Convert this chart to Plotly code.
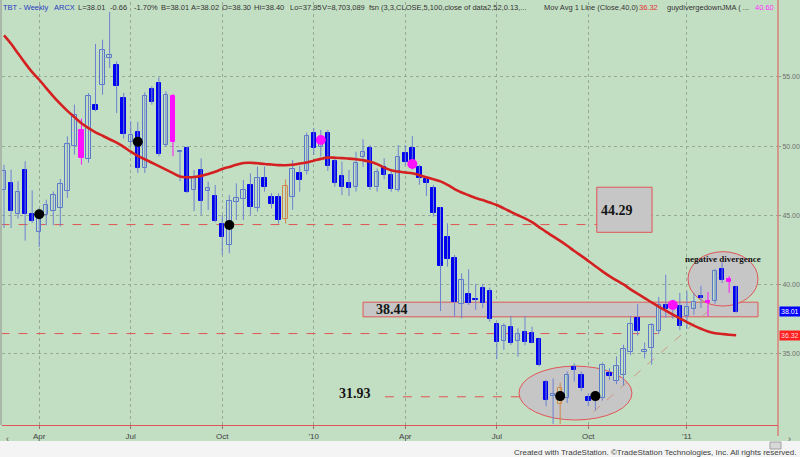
import plotly.graph_objects as go
import pandas as pd

# TBT weekly bars (late Feb 2009 .. early Mar 2011)
opens = [46.86, 47.34, 45.10, 48.25, 45.10, 43.80, 45.05, 45.34, 45.53, 46.73,
         49.99, 51.19, 49.07, 52.95, 54.45, 56.37, 55.84, 53.48, 50.30, 51.02,
         48.42, 54.16, 54.60, 50.10, 53.60, 49.55, 49.90, 46.84, 48.28, 46.76,
         46.40, 44.38, 42.86, 45.95, 46.16, 47.19, 45.55, 47.72, 46.35, 46.35,
         44.70, 46.35, 48.04, 48.23, 50.98, 49.96, 50.98, 48.93, 47.87, 47.31,
         47.02, 49.20, 49.84, 47.07, 48.47, 47.92, 46.83, 49.48, 49.89, 48.52,
         47.62, 47.00, 45.55, 43.46, 41.89, 38.60, 39.31, 38.95, 39.77, 39.53,
         37.12, 35.90, 36.90, 35.92, 36.54, 36.52, 36.04, 32.98, 31.95, 31.35,
         31.79, 34.00, 33.47, 31.90, 31.80, 31.79, 33.60, 33.00, 33.47, 35.13,
         37.61, 35.10, 35.40, 36.60, 38.50, 38.50, 38.45, 37.70, 38.20, 39.20,
         38.80, 38.80, 41.10, 40.40, 39.80]
highs = [48.66, 48.30, 47.46, 48.90, 46.80, 45.50, 46.13, 46.73, 47.63, 50.71,
         53.00, 51.99, 53.84, 57.39, 57.70, 59.70, 56.13, 53.84, 51.80, 51.75,
         53.90, 54.33, 54.98, 53.96, 53.77, 49.65, 50.00, 48.28, 49.12, 47.43,
         47.19, 45.02, 46.47, 47.31, 47.55, 48.03, 48.52, 48.52, 46.60, 46.60,
         47.60, 49.00, 48.57, 50.98, 51.29, 51.17, 51.17, 49.24, 48.88, 48.28,
         49.60, 50.50, 50.08, 48.39, 49.12, 48.27, 50.08, 50.08, 50.73, 48.64,
         47.79, 47.19, 45.60, 44.42, 42.13, 40.81, 41.10, 40.04, 40.04, 39.77,
         37.19, 37.19, 37.72, 36.83, 37.72, 36.95, 36.10, 33.10, 33.20, 32.90,
         33.71, 34.30, 33.71, 32.13, 32.20, 34.36, 33.95, 34.80, 35.64, 37.73,
         38.57, 35.80, 37.20, 39.10, 40.70, 38.90, 39.40, 39.50, 39.40, 39.90,
         39.45, 41.10, 41.60, 40.60, 39.90]
lows = [44.08, 44.08, 44.76, 43.17, 44.45, 42.70, 44.28, 44.28, 44.20, 46.25,
        49.39, 48.66, 48.80, 52.52, 53.72, 55.65, 52.40, 50.54, 50.00, 48.06,
        48.06, 53.00, 49.27, 49.98, 49.27, 47.46, 46.60, 45.30, 45.03, 45.38,
        44.50, 42.13, 42.25, 44.66, 44.66, 45.00, 45.27, 46.71, 45.50, 44.40,
        44.40, 45.40, 46.71, 47.96, 49.36, 49.24, 48.20, 47.07, 46.47, 46.40,
        46.71, 48.50, 46.83, 46.71, 47.60, 46.71, 46.71, 48.60, 48.30, 47.20,
        46.40, 44.90, 38.08, 41.29, 37.67, 37.55, 38.52, 38.16, 38.28, 37.30,
        34.60, 35.27, 35.63, 34.78, 35.60, 35.75, 34.07, 31.20, 29.90, 29.90,
        31.43, 32.98, 32.30, 31.20, 30.90, 31.60, 33.10, 32.80, 32.70, 34.89,
        36.30, 34.65, 34.20, 36.40, 37.60, 37.50, 36.70, 36.80, 37.80, 38.30,
        37.70, 38.60, 40.10, 39.40, 37.95]
closes = [48.18, 45.34, 46.69, 45.12, 44.60, 45.05, 45.77, 46.45, 47.27, 50.16,
          52.28, 49.14, 53.60, 52.64, 56.93, 56.60, 54.37, 50.88, 50.78, 48.42,
          53.60, 53.20, 49.43, 53.72, 50.30, 49.62, 46.72, 47.80, 46.00, 46.98,
          44.60, 43.41, 46.06, 46.23, 46.83, 45.63, 47.67, 47.02, 45.82, 44.66,
          47.12, 48.33, 47.55, 50.73, 49.84, 50.37, 48.57, 47.31, 47.07, 46.95,
          48.81, 49.60, 47.07, 48.15, 47.92, 46.88, 49.24, 48.88, 48.76, 47.72,
          47.36, 45.19, 41.33, 41.82, 38.71, 40.33, 38.69, 38.90, 38.69, 37.50,
          35.87, 37.00, 35.75, 36.42, 35.87, 35.80, 34.20, 31.65, 32.05, 32.50,
          33.47, 33.85, 32.50, 31.60, 32.00, 34.19, 33.40, 34.10, 35.35, 37.13,
          36.60, 35.25, 37.10, 38.50, 38.20, 38.30, 37.00, 38.34, 38.76, 39.04,
          38.65, 41.00, 40.30, 40.15, 38.00]
# 40-week moving average as drawn on the chart
ma40 = [58.00, 57.40, 56.70, 56.00, 55.35, 54.80, 54.20, 53.60, 53.05, 52.55,
        52.10, 51.65, 51.30, 51.00, 50.75, 50.50, 50.25, 49.95, 49.60, 49.30,
        49.05, 48.80, 48.55, 48.30, 48.05, 47.80, 47.75, 47.77, 47.85, 47.98,
        48.15, 48.35, 48.50, 48.65, 48.78, 48.80, 48.76, 48.71, 48.67, 48.63,
        48.62, 48.66, 48.74, 48.82, 48.95, 49.08, 49.17, 49.16, 49.13, 49.10,
        49.05, 48.98, 48.88, 48.70, 48.45, 48.25, 48.17, 48.10, 48.04, 47.90,
        47.75, 47.60, 47.45, 47.20, 46.90, 46.65, 46.45, 46.25, 46.10, 45.92,
        45.74, 45.50, 45.25, 45.00, 44.78, 44.50, 44.15, 43.80, 43.48, 43.15,
        42.80, 42.42, 42.07, 41.70, 41.32, 40.95, 40.60, 40.30, 40.00, 39.65,
        39.33, 39.02, 38.70, 38.40, 38.10, 37.82, 37.55, 37.27, 37.02, 36.80,
        36.60, 36.47, 36.42, 36.37, 36.33]

magenta_bars = [12, 25, 101, 104]
orange_bars = [41, 80]
black_dot_bars = [6, 20, 33, 80, 85]
black_dot_vals = [45.07, 50.32, 44.30, 31.93, 31.93]
pink_dot_bars = [46, 59, 96]
pink_dot_vals = [50.44, 48.71, 38.51]

tick_bars = [6, 19, 32, 45, 58, 71, 84, 98]
tick_text = ["Apr", "Jul", "Oct", "'10", "Apr", "Jul", "Oct", "'11"]
price_ticks = [35, 40, 45, 50, 55]

BG = '#c3dfc3'
BLUE = '#0000f0'
HOLLOW = '#5a78c8'
WICK = '#6c82d0'
MAG = '#ff10ff'
ORANGE = '#d0864c'
RED = '#d42020'
LINE_RED = '#e05555'
GRAY_FILL = '#c6c6c6'
DAY = 86400000

dates = pd.date_range("2009-02-27", periods=len(closes), freq="7D")


def bar_date(i):
    # fractional bar number -> date on the weekly axis
    return dates[0] + pd.Timedelta(days=7 * (i - 1))


n = len(closes)
body_base, body_h, fill, outline = [], [], [], []
for i in range(n):
    o, c = opens[i], closes[i]
    body_base.append(min(o, c))
    body_h.append(max(abs(c - o), 0.04))
    up = c > o
    if i + 1 in magenta_bars:
        fill.append(MAG); outline.append(MAG)
    elif i + 1 in orange_bars:
        fill.append(BG); outline.append(ORANGE)
    elif up:
        fill.append(BG); outline.append(HOLLOW)
    else:
        fill.append(BLUE); outline.append(BLUE)

fig = go.Figure()

# wicks, one trace per colour group
groups = {WICK: [], MAG: [], ORANGE: []}
for i in range(n):
    key = MAG if i + 1 in magenta_bars else ORANGE if i + 1 in orange_bars else WICK
    groups[key].append(i)
for col, idx in groups.items():
    xs, ys = [], []
    for i in idx:
        xs += [dates[i], dates[i], None]
        ys += [lows[i], highs[i], None]
    fig.add_trace(go.Scatter(x=xs, y=ys, mode='lines', line=dict(color=col, width=1),
                             hoverinfo='skip', showlegend=False))

fig.add_trace(go.Bar(
    x=dates, y=body_h, base=body_base, width=4.4 * DAY,
    marker=dict(color=fill, line=dict(color=outline, width=1)),
    showlegend=False, hoverinfo='skip'
))

fig.add_trace(go.Scatter(x=dates, y=ma40, mode='lines',
                         line=dict(color=RED, width=2.6, shape='spline'),
                         showlegend=False, hoverinfo='skip'))

fig.add_trace(go.Scatter(x=[dates[b - 1] for b in black_dot_bars], y=black_dot_vals,
                         mode='markers', marker=dict(color='black', size=10),
                         showlegend=False, hoverinfo='skip'))
fig.add_trace(go.Scatter(x=[dates[b - 1] for b in pink_dot_bars], y=pink_dot_vals,
                         mode='markers', marker=dict(color=MAG, size=10),
                         showlegend=False, hoverinfo='skip'))

# drawings: boxes, ellipses, level lines
shapes = []


def rect(b0, b1, p0, p1, kind='rect'):
    shapes.append(dict(type=kind, xref='x', yref='y', x0=bar_date(b0), x1=bar_date(b1),
                       y0=p0, y1=p1, fillcolor=GRAY_FILL,
                       line=dict(color=LINE_RED, width=1), layer='between'))


def level(b0, b1, p0, p1, color=LINE_RED, dash='dash'):
    shapes.append(dict(type='line', xref='x', yref='y', x0=bar_date(b0), x1=bar_date(b1),
                       y0=p0, y1=p1, line=dict(color=color, width=1, dash=dash),
                       layer='between'))


level(0.5, 91.5, 44.33, 44.33)
level(0.5, 94.2, 36.45, 36.45)
level(55.1, 76.1, 31.88, 31.88)
rect(85.2, 93.05, 43.77, 47.03)
rect(52.0, 108.1, 37.66, 38.72)
rect(74.15, 90.2, 30.2, 34.1, 'circle')
rect(98.16, 108.1, 38.44, 42.37, 'circle')
level(84.7, 102.0, 30.78, 38.51, color='#cc9a85')

# plot area spans pixels x 2..778, y 2..425
def px(x):
    return (x - 2) / 776.0


def py(y):
    return (425 - y) / 423.0


shapes.append(dict(type='rect', xref='paper', yref='paper', x0=px(0), x1=px(800),
                   y0=py(441), y1=py(458), fillcolor='#f4f4f4', line=dict(width=0),
                   layer='below'))
shapes.append(dict(type='rect', xref='paper', yref='paper', x0=px(770), x1=px(781),
                   y0=py(442), y1=py(449), fillcolor='#d8d8d8',
                   line=dict(color='#a0a0a0', width=1)))
shapes.append(dict(type='line', xref='paper', yref='paper', x0=px(778), x1=px(778),
                   y0=py(0), y1=py(436), line=dict(color=LINE_RED, width=1)))
shapes.append(dict(type='line', xref='paper', yref='paper', x0=px(1), x1=px(1),
                   y0=py(0), y1=py(425), line=dict(color='#909090', width=1)))

ann = []
serif = dict(family='Liberation Serif', size=14, color='#151515')
ann.append(dict(x=bar_date(88.1), y=45.33, text='<b>44.29</b>', showarrow=False, font=serif))
ann.append(dict(x=bar_date(56.1), y=38.19, text='<b>38.44</b>', showarrow=False, font=serif))
ann.append(dict(x=bar_date(50.86), y=32.15, text='<b>31.93</b>', showarrow=False, font=serif))
ann.append(dict(x=bar_date(103.1), y=41.84, text='<b>negative divergence</b>', showarrow=False,
                font=dict(family='Liberation Serif', size=9, color='#151515')))

# header line
header = [("TBT - Weekly", 1, '#2a3ac0'), ("ARCX", 52, '#2a3ac0'), ("L=38.01", 76, '#333'),
          ("-0.66", 108, '#333'), ("-1.70%", 132, '#333'), ("B=38.01", 159, '#333'),
          ("A=38.02", 189, '#333'), ("O=38.30", 220, '#333'), ("Hi=38.40", 252, '#333'),
          ("Lo=37.95", 288, '#333'), ("V=8,703,089", 320, '#333'),
          ("fsn (3,3,CLOSE,5,100,close of data2,52,0.13,...", 367, '#333'),
          ("Mov Avg 1 Line (Close,40,0)", 542, '#333'), ("36.32", 637, '#e03030'),
          ("guydivergedownJMA ( ...", 665, '#333'), ("40.60", 753, '#ff30ff')]
for txt, x0, col in header:
    ann.append(dict(xref='paper', yref='paper', x=px(x0), y=py(7), xanchor='left',
                    yanchor='middle', text=txt, showarrow=False,
                    font=dict(family='Liberation Sans', size=7.5, color=col)))

# last price / MA tags on the price scale
ann.append(dict(xref='paper', yref='y', x=px(779), y=38.01, xanchor='left', text='38.01',
                showarrow=False, bgcolor='#0000ff', borderpad=1,
                font=dict(family='Liberation Sans', size=7, color='white')))
ann.append(dict(xref='paper', yref='y', x=px(779), y=36.32, xanchor='left', text='36.32',
                showarrow=False, bgcolor='#ff2020', borderpad=1,
                font=dict(family='Liberation Sans', size=7, color='#ffd8d8')))

ann.append(dict(xref='paper', yref='paper', x=px(799), y=py(452), xanchor='right',
                yanchor='middle', showarrow=False,
                text='Created with TradeStation. \u00a9TradeStation Technologies, Inc. All rights reserved.',
                font=dict(family='Liberation Sans Narrow, Liberation Sans', size=8, color='#404040')))
ann.append(dict(xref='paper', yref='paper', x=px(4), y=py(446), showarrow=False, text='\u2039',
                font=dict(size=9, color='#505050')))
ann.append(dict(xref='paper', yref='paper', x=px(793), y=py(446), showarrow=False, text='\u203a',
                font=dict(size=9, color='#505050')))

fig.update_layout(
    width=800, height=457,
    margin=dict(l=2, r=22, t=2, b=32, autoexpand=False),
    paper_bgcolor=BG, plot_bgcolor=BG,
    shapes=shapes, annotations=ann,
    bargap=0,
    xaxis=dict(
        type='date', automargin=False,
        range=[bar_date(1) - pd.Timedelta(days=2), bar_date(1) + pd.Timedelta(days=769.6)],
        tickvals=[dates[b - 1] for b in tick_bars], ticktext=tick_text,
        showgrid=True, gridcolor='#98a898', griddash='dot', gridwidth=1,
        showline=True, linecolor=LINE_RED, linewidth=1,
        ticks='outside', ticklen=3, tickcolor='#a07070',
        tickfont=dict(family='Liberation Sans', size=8, color='#404040'),
        zeroline=False, fixedrange=True
    ),
    yaxis=dict(
        side='right', automargin=False,
        range=[29.84, 60.42],
        tickvals=price_ticks, ticktext=['%.2f' % p for p in price_ticks],
        showgrid=True, gridcolor='#98a898', griddash='dot', gridwidth=1,
        showline=False,
        ticks='outside', ticklen=2, tickcolor='#909090',
        tickfont=dict(family='Liberation Sans', size=7, color='#707070'),
        zeroline=False, fixedrange=True
    ),
    font=dict(family='Liberation Sans')
)

# page body has a default 8px margin; drop it so the chart sits at the window origin
fig.write_html("out.html", config={'displayModeBar': False},
               post_script="document.body.style.margin='0';")
